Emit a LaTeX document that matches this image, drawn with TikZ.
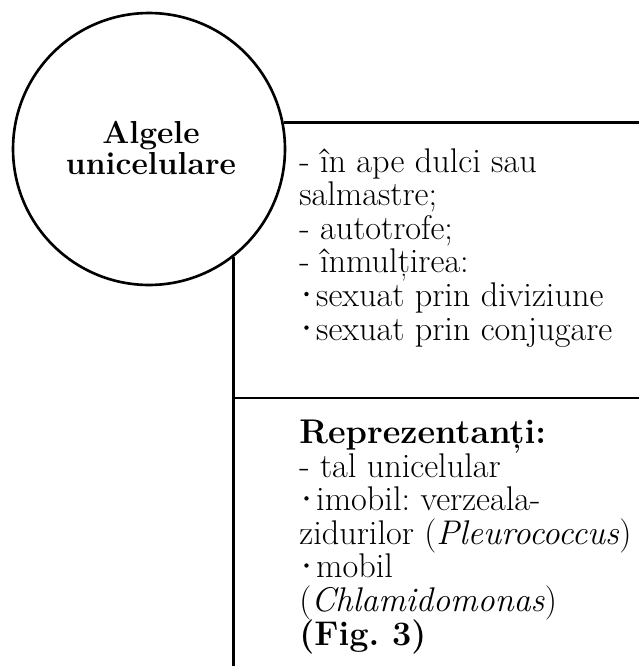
\documentclass[tikz,border=0pt]{standalone}
\usetikzlibrary{calc}
\setlength{\lineskiplimit}{-10pt}
\frenchspacing
\tikzstyle{algnode}=[black, draw=black, line width=1.5pt, shape=circle, minimum size=5.44cm, inner sep=0pt]
\tikzstyle{titlenode}=[black, align=center, inner sep=0pt, anchor=base, font=\bfseries\fontsize{18.1pt}{17.2pt}\selectfont]
\tikzstyle{textnode}=[black, align=left, inner sep=0pt, anchor=base west, font=\fontsize{19.5pt}{19.1pt}\selectfont]
\tikzstyle{rulestyle}=[line width=1.5pt, color=black]
\newcommand{\bulina}{\hspace*{2.8pt}\raisebox{5.8pt}{\tikz\fill (0,0) circle (1.25pt);}\hspace*{4.3pt}}
\begin{document}
\begin{tikzpicture}[x=0.02cm, y=-0.02cm]
\useasboundingbox (0,0) rectangle (639,666);
\node [algnode] (alge) at (149,149) {};
\node [titlenode] (titlu) at (151,174) {Algele\\unicelulare};

\coordinate (dreapta) at (639,122);
\coordinate (jos) at (231.5,666);
\coordinate (mijloc) at (231.5,398);

\node [textnode] (caracter) at (299,340) {- în ape dulci sau\\salmastre;\\- autotrofe;\\- înmulțirea:\\\bulina sexuat prin diviziune\\\bulina sexuat prin conjugare};
\node [textnode] (reprez) at (299,645) {\textbf{Reprezentanți:}\\- tal unicelular\\\bulina imobil: verzeala-\\zidurilor (\textit{Pleurococcus})\\\bulina mobil\\(\textit{Chlamidomonas})\\\textbf{(Fig. 3)}};

\draw[rulestyle] (alge.11.5) -- (alge.11.5 -| dreapta);
\draw[rulestyle] (alge.-52.6) -- (alge.-52.6 |- jos);
\draw[rulestyle] (mijloc) -- (mijloc -| dreapta);
\end{tikzpicture}
\end{document}
